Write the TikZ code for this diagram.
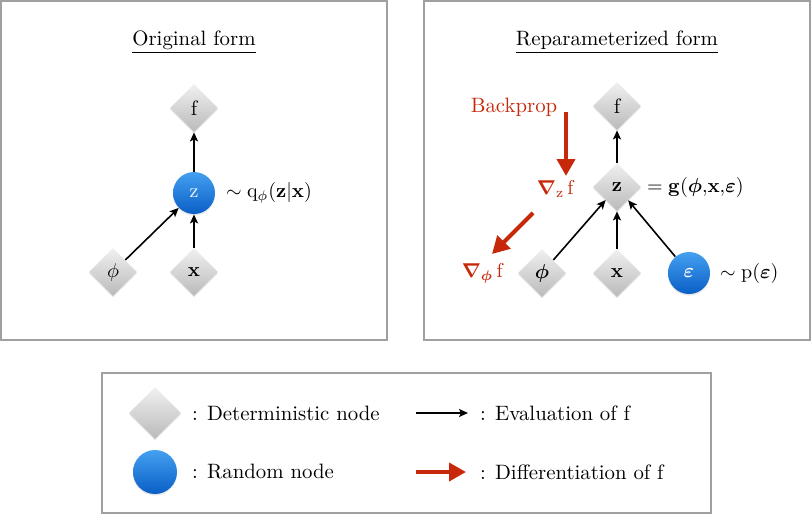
\documentclass[tikz,border=0pt]{standalone}
\usepackage{amsmath}
\usepackage{amssymb}
\usepackage{bm}
\usetikzlibrary{shapes.geometric,shadows,arrows.meta}

\definecolor{boxgray}{HTML}{A0A0A0}
\definecolor{detlight}{HTML}{F0F0F0}
\definecolor{detdark}{HTML}{BABABA}
\definecolor{rndlight}{HTML}{44A0F0}
\definecolor{rnddark}{HTML}{0A5EC6}
\definecolor{bpred}{HTML}{C8280A}

\begin{document}
\begin{tikzpicture}[x=0.5pt,y=-0.5pt,
   every node/.style={font=\fontsize{10.4}{12.5}\selectfont},
   frame/.style={draw=boxgray,line width=0.6pt},
   detnode/.style={diamond,aspect=1,inner sep=0pt,minimum size=24pt,
      top color=detlight,bottom color=detdark,
      drop shadow={opacity=0.18,shadow xshift=0pt,shadow yshift=-0.8pt}},
   rndnode/.style={circle,inner sep=0pt,minimum size=21pt,
      top color=rndlight,bottom color=rnddark,text=white,
      drop shadow={opacity=0.18,shadow xshift=0pt,shadow yshift=-0.8pt}},
   evalarrow/.style={-{Stealth[length=4.5pt,width=4pt,inset=1pt]},line width=0.8pt},
   diffarrow/.style={-{Triangle[length=8.5pt,width=9pt]},line width=2pt,draw=bpred}]
   \useasboundingbox (0,0) rectangle (812,514);

   % frames
   \draw [frame] (1,1) rectangle (387,340);
   \draw [frame] (424,1) rectangle (810,340);
   \draw [frame] (102,373) rectangle (711,513);

   % original form
   \node (titleL) at (194,42) {\underline{Original form}};
   \node [detnode] (fL) at (194,108) {f};
   \node [rndnode] (zL) at (194,193) {$\mathrm{z}$};
   \node [detnode] (phiL) at (113,272) {$\phi$};
   \node [detnode] (xL) at (194,272) {$\mathbf{x}$};
   \node [anchor=west] (qL) at (219,193) {$\sim \mathrm{q}_{\phi}(\mathbf{z}|\mathbf{x})$};
   \draw [evalarrow] (zL) -- (fL);
   \draw [evalarrow] (xL) -- (zL);
   \draw [evalarrow] (phiL) -- (zL);

   % reparameterized form
   \node (titleR) at (617,42) {\underline{Reparameterized form}};
   \node [detnode] (fR) at (617,106) {f};
   \node [detnode] (zR) at (617,187) {$\mathbf{z}$};
   \node [detnode] (phiR) at (542,273) {$\bm{\phi}$};
   \node [detnode] (xR) at (617,273) {$\mathbf{x}$};
   \node [rndnode] (epsR) at (689,273) {$\bm{\varepsilon}$};
   \node [anchor=west] (gR) at (640,187) {$= \mathbf{g}(\bm{\phi}{,}\mathbf{x}{,}\bm{\varepsilon})$};
   \node [anchor=west] (pR) at (713,273) {$\sim \mathrm{p}(\bm{\varepsilon})$};
   \draw [evalarrow] (zR) -- (fR);
   \draw [evalarrow] (xR) -- (zR);
   \draw [evalarrow] (phiR) -- (zR);
   \draw [evalarrow] (epsR) -- (zR);

   % backprop
   \node [text=bpred] (bpLabel) at (514,107) {Backprop};
   \coordinate (bpTop) at (566,112);
   \coordinate (bpBot) at (566,176);
   \draw [diffarrow] (bpTop) -- (bpBot);
   \node [text=bpred] (gradZ) at (556,189) {$\bm{\nabla}_{\mathrm{z}}\,\mathrm{f}$};
   \coordinate (bpFrom) at (533,213);
   \coordinate (bpTo) at (492,254);
   \draw [diffarrow] (bpFrom) -- (bpTo);
   \node [text=bpred] (gradPhi) at (483,273) {$\bm{\nabla}_{\bm{\phi}}\,\mathrm{f}$};

   % legend
   \node [detnode,minimum size=26pt] (legDet) at (155,413) {};
   \node [anchor=west] (legDetText) at (185,413) {: Deterministic node};
   \node [rndnode,minimum size=22pt] (legRnd) at (155,472) {};
   \node [anchor=west] (legRndText) at (185,472) {: Random node};
   \coordinate (legEvalA) at (416,413);
   \coordinate (legEvalB) at (468,413);
   \draw [evalarrow] (legEvalA) -- (legEvalB);
   \node [anchor=west] (legEvalText) at (473,413) {: Evaluation of f};
   \coordinate (legDiffA) at (416,472);
   \coordinate (legDiffB) at (466,472);
   \draw [diffarrow] (legDiffA) -- (legDiffB);
   \node [anchor=west] (legDiffText) at (473,472) {: Differentiation of f};
\end{tikzpicture}
\end{document}
